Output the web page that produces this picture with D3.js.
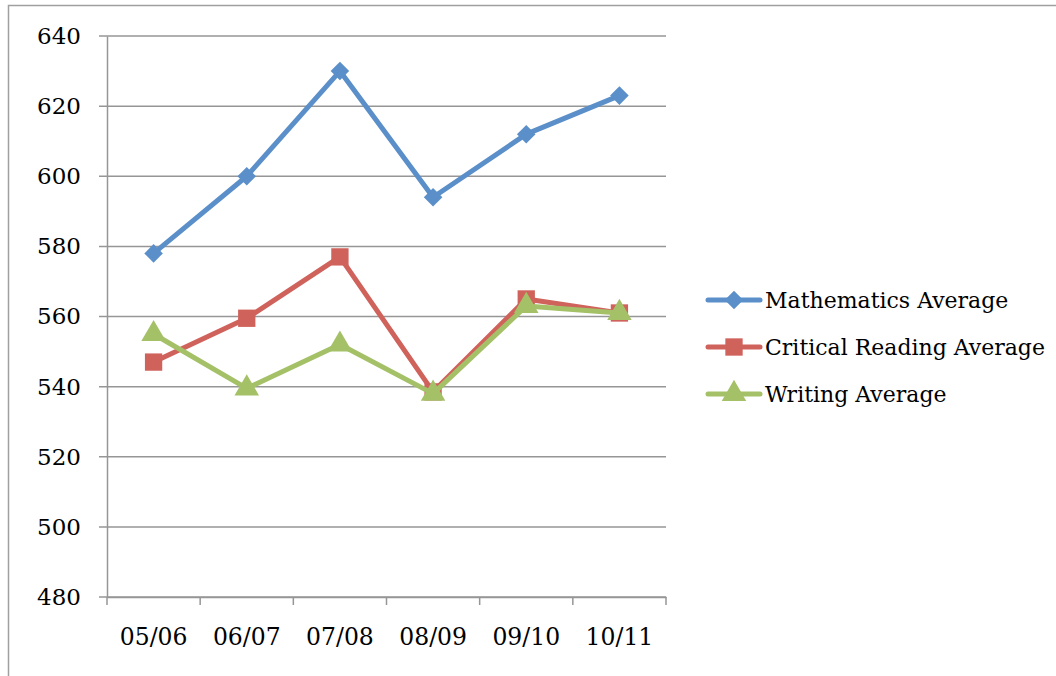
<!DOCTYPE html>
<html>
<head>
<meta charset="utf-8">
<script src="https://cdn.jsdelivr.net/npm/d3@7"></script>
<style>
  body { margin: 0; background: #fff; }
  text { font-family: "DejaVu Serif", "Liberation Serif", serif; }
</style>
</head>
<body>
<div id="viz"></div>
<script>
const years = ["05/06", "06/07", "07/08", "08/09", "09/10", "10/11"];
const mathAvg = [578, 600, 630, 594, 612, 623];
const readingAvg = [547, 559.5, 577, 538.5, 565, 561];
const writingAvg = [555, 539.5, 552, 538, 563, 561];
const yTicks = [480, 500, 520, 540, 560, 580, 600, 620, 640];

const series = [
  { name: "Mathematics Average", values: mathAvg, color: "#5b8fc9", symbol: "diamond" },
  { name: "Critical Reading Average", values: readingAvg, color: "#d0625c", symbol: "square" },
  { name: "Writing Average", values: writingAvg, color: "#a4c168", symbol: "triangle" }
];

const width = 1056, height = 676;
const plotLeft = 107, plotRight = 666, plotTop = 36, plotBottom = 597;

const svg = d3.select("#viz").append("svg")
  .attr("width", width)
  .attr("height", height);

// chart border
svg.append("rect")
  .attr("x", 8.5).attr("y", 5.5)
  .attr("width", 1100).attr("height", 700)
  .attr("fill", "none").attr("stroke", "#a0a0a0").attr("stroke-width", 1.5);

const x = d3.scaleBand().domain(years).range([plotLeft, plotRight]);
const y = d3.scaleLinear().domain([480, 640]).range([plotBottom, plotTop]);

// gridlines
svg.append("g")
  .selectAll("line")
  .data(yTicks)
  .enter()
  .append("line")
  .attr("x1", plotLeft - 8).attr("x2", plotRight)
  .attr("y1", d => y(d)).attr("y2", d => y(d))
  .attr("stroke", "#969696").attr("stroke-width", 1.5);

// y axis
const yAxis = d3.axisLeft(y).tickValues(yTicks).tickSize(0).tickPadding(26);
const yG = svg.append("g")
  .attr("transform", `translate(${plotLeft},0)`)
  .call(yAxis);
yG.select(".domain").attr("stroke", "#969696").attr("stroke-width", 1.5);
yG.selectAll("text").attr("font-size", 23).attr("fill", "#000")
  .attr("font-family", "DejaVu Serif");

// x axis
const xAxis = d3.axisBottom(x).tickSize(0).tickPadding(31);
const xG = svg.append("g")
  .attr("transform", `translate(0,${plotBottom})`)
  .call(xAxis);
xG.select(".domain").attr("stroke", "#969696").attr("stroke-width", 1.5);
xG.selectAll("text").attr("font-size", 23.5).attr("fill", "#000")
  .attr("font-family", "DejaVu Serif");
// category boundary ticks
xG.selectAll(".bound")
  .data(d3.range(years.length + 1))
  .enter()
  .append("line")
  .attr("x1", i => plotLeft + i * x.step()).attr("x2", i => plotLeft + i * x.step())
  .attr("y1", 0).attr("y2", 8)
  .attr("stroke", "#969696").attr("stroke-width", 1.5);

const symbolType = { diamond: d3.symbolDiamond2, square: d3.symbolSquare, triangle: d3.symbolTriangle };
const symbolSize = { diamond: 220, square: 300, triangle: 260 };

const line = d3.line()
  .x((d, i) => x(years[i]) + x.bandwidth() / 2)
  .y(d => y(d));

series.forEach(s => {
  svg.append("path")
    .datum(s.values)
    .attr("d", line)
    .attr("fill", "none")
    .attr("stroke", s.color)
    .attr("stroke-width", 5)
    .attr("stroke-linejoin", "round")
    .attr("stroke-linecap", "round");
  svg.append("g")
    .selectAll("path")
    .data(s.values)
    .enter()
    .append("path")
    .attr("transform", (d, i) => `translate(${x(years[i]) + x.bandwidth() / 2},${y(d)})`)
    .attr("d", d3.symbol().type(symbolType[s.symbol]).size(symbolSize[s.symbol]))
    .attr("fill", s.color);
});

// legend
const legend = svg.append("g");
series.forEach((s, i) => {
  const ly = 300 + i * 47;
  legend.append("line")
    .attr("x1", 708).attr("x2", 760)
    .attr("y1", ly).attr("y2", ly)
    .attr("stroke", s.color).attr("stroke-width", 5)
    .attr("stroke-linecap", "round");
  legend.append("path")
    .attr("transform", `translate(734,${ly})`)
    .attr("d", d3.symbol().type(symbolType[s.symbol]).size(symbolSize[s.symbol]))
    .attr("fill", s.color);
  legend.append("text")
    .attr("x", 765).attr("y", ly)
    .attr("dy", "0.35em")
    .attr("font-size", 22)
    .text(s.name);
});
</script>
</body>
</html>
